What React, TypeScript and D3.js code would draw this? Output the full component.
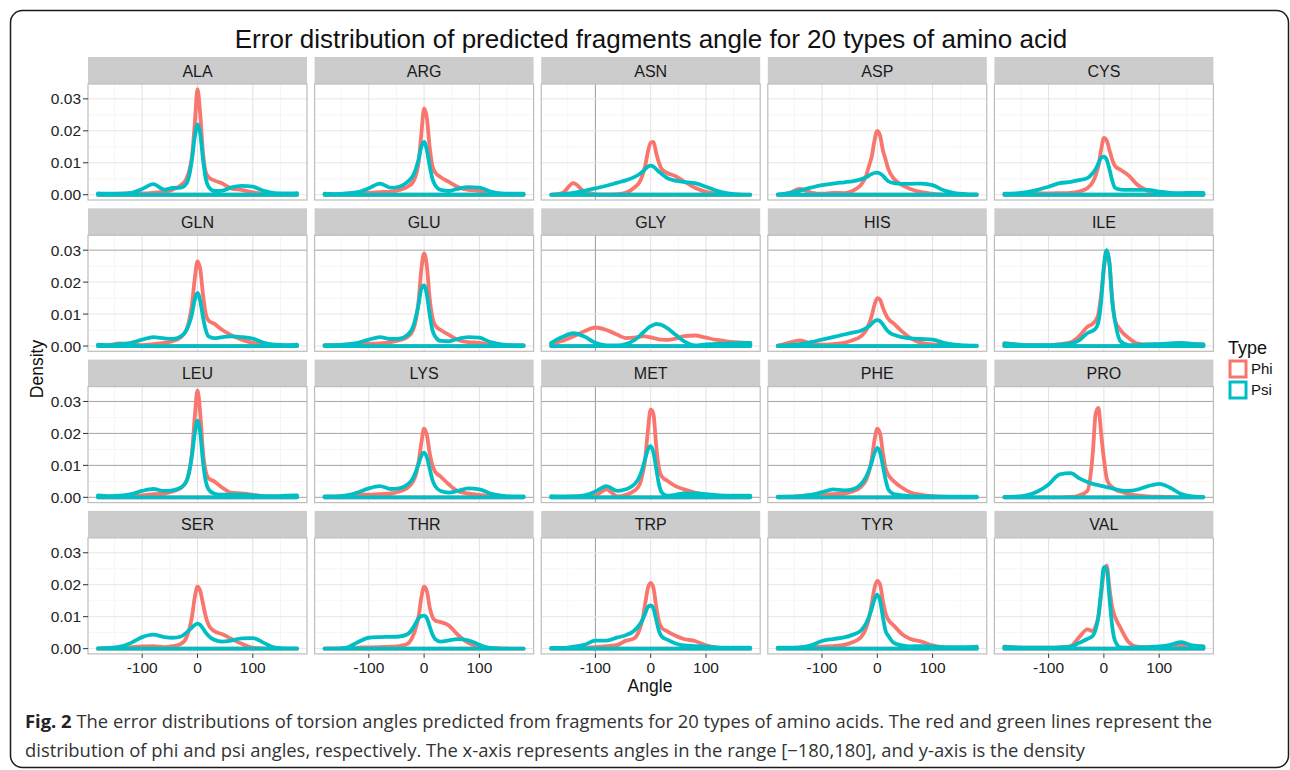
import React from 'react';
import * as d3 from 'd3';

const ANGLES = [-180, -160, -140, -120, -100, -80, -60, -45, -30, -20, -15, -10, -5, 0, 5, 10, 15, 20, 30, 45, 60, 80, 100, 120, 140, 160, 180];

const AMINO_ACIDS = ['ALA', 'ARG', 'ASN', 'ASP', 'CYS', 'GLN', 'GLU', 'GLY', 'HIS', 'ILE', 'LEU', 'LYS', 'MET', 'PHE', 'PRO', 'SER', 'THR', 'TRP', 'TYR', 'VAL'];

// densities, in units of 0.001
const ALA_PHI = [0.2, 0.2, 0.3, 0.5, 0.4, 0.6, 1.0, 1.6, 3.0, 5.0, 7.5, 12, 22, 33, 25, 13, 7, 5.5, 4.5, 3.5, 2.0, 1.5, 0.8, 0.3, 0.2, 0.1, 0.1];
const ALA_PSI = [0.4, 0.3, 0.3, 0.6, 1.8, 3.3, 1.6, 2.1, 2.2, 3.5, 6, 11, 18, 22, 19, 11, 5, 2.5, 1.2, 1.3, 2.2, 2.8, 2.5, 1.2, 0.5, 0.4, 0.5];
const ARG_PHI = [0.2, 0.2, 0.3, 0.5, 0.6, 0.8, 1.0, 1.5, 2.5, 4, 6, 10, 19, 27, 24, 15, 9, 7, 5.5, 4, 2.5, 1.5, 1.2, 0.5, 0.2, 0.1, 0.1];
const ARG_PSI = [0.3, 0.2, 0.4, 0.8, 2.0, 3.5, 2.2, 2.5, 4, 6, 8, 11, 15, 16.5, 14, 9, 5, 3, 1.5, 1.2, 1.8, 2.4, 2.2, 1.0, 0.4, 0.3, 0.3];
const ASN_PHI = [0, 0.5, 3.6, 1.0, 0.2, 0.1, 0.2, 0.6, 2.2, 4, 6, 9, 13.5, 16.3, 16.5, 13, 10, 8, 6.8, 5.8, 4.2, 2.2, 0.9, 0.3, 0.1, 0, 0];
const ASN_PSI = [0, 0.2, 0.6, 1.2, 2.0, 2.8, 3.8, 4.5, 5.5, 6.5, 7.2, 8, 8.8, 9.1, 8.8, 8, 7.2, 6.5, 5.2, 4.4, 4.0, 3.6, 2.5, 1.2, 0.4, 0.1, 0];
const ASP_PHI = [0, 0.5, 1.8, 0.7, 0.3, 0.6, 0.5, 1.2, 3, 6, 9, 12, 17, 20, 18.5, 14, 11, 8, 5, 3, 1.8, 0.8, 0.3, 0.1, 0, 0, 0];
const ASP_PSI = [0.1, 0.5, 1.3, 2.2, 3.0, 3.5, 3.9, 4.2, 4.8, 5.5, 6.0, 6.5, 6.8, 6.9, 6.6, 6.0, 5.0, 4.2, 3.6, 3.4, 3.4, 3.5, 3.0, 1.4, 0.5, 0.2, 0.1];
const CYS_PHI = [0, 0.1, 0.3, 0.5, 0.4, 0.5, 0.6, 1.0, 2.0, 4.0, 6.0, 9, 14, 17.8, 17, 14, 11, 9, 7.8, 6.0, 3.2, 1.2, 0.5, 0.2, 0.1, 0.1, 0.1];
const CYS_PSI = [0.3, 0.4, 0.8, 1.5, 2.5, 3.6, 4.0, 4.6, 5.2, 6.8, 8.0, 9.8, 11.5, 11.9, 11, 8, 4.5, 2.2, 1.6, 1.5, 1.5, 1.5, 1.0, 0.6, 0.5, 0.6, 0.6];
const GLN_PHI = [0.1, 0.3, 0.8, 0.5, 0.3, 0.6, 1.0, 1.5, 2.8, 5, 8, 13, 21, 26.5, 24, 16, 10, 8, 7, 5, 3.5, 2.0, 1.0, 0.4, 0.2, 0.1, 0.1];
const GLN_PSI = [0.4, 0.3, 0.6, 1.0, 2.0, 2.8, 2.4, 2.2, 3.0, 5, 7, 10, 14.5, 16.6, 14, 9, 5, 3.0, 2.5, 2.8, 3.0, 2.8, 2.3, 1.0, 0.4, 0.3, 0.4];
const GLU_PHI = [0.2, 0.3, 0.4, 0.6, 0.7, 0.8, 1.2, 1.8, 2.8, 5, 8, 14, 24, 29, 25, 15, 9, 6.5, 5, 3.5, 2.0, 1.2, 1.0, 0.4, 0.2, 0.1, 0.1];
const GLU_PSI = [0.3, 0.3, 0.5, 1.0, 2.0, 2.8, 2.2, 2.3, 3.5, 6, 9, 13, 18, 19, 16, 10, 5, 3, 1.6, 1.5, 2.2, 2.8, 2.6, 1.2, 0.5, 0.3, 0.3];
const GLY_PHI = [0.8, 1.6, 3.0, 4.6, 5.8, 5.0, 3.5, 2.5, 2.6, 2.9, 3.0, 3.0, 2.9, 2.7, 2.5, 2.3, 2.1, 2.0, 1.9, 2.3, 3.1, 3.3, 2.6, 1.9, 1.4, 1.1, 1.0];
const GLY_PSI = [1.0, 2.8, 4.0, 3.0, 1.0, 0.2, 0.2, 0.6, 1.8, 3.2, 4.0, 4.8, 5.6, 6.2, 6.6, 6.9, 6.8, 6.6, 5.6, 3.5, 1.5, 0.2, 0.5, 0.7, 0.8, 0.9, 1.0];
const HIS_PHI = [0.1, 1.0, 1.8, 0.8, 0.4, 0.6, 1.0, 1.8, 3.0, 5, 7, 9.5, 13, 15, 14.5, 12, 10, 8.5, 7.0, 4.5, 2.5, 1.0, 0.5, 0.2, 0.1, 0, 0];
const HIS_PSI = [0.1, 0.3, 0.6, 1.2, 2.0, 2.8, 3.6, 4.2, 4.8, 5.6, 6.2, 7.0, 7.8, 8.1, 7.8, 6.8, 5.5, 4.5, 3.5, 2.8, 2.4, 2.2, 2.0, 1.0, 0.4, 0.2, 0.1];
const ILE_PHI = [0.8, 0.5, 0.3, 0.3, 0.3, 0.6, 1.2, 3.0, 6.0, 7, 8, 10, 16, 24, 29.5, 26, 15, 8, 5, 2.5, 0.8, 0.4, 0.5, 0.7, 0.8, 0.6, 0.5];
const ILE_PSI = [0.8, 0.5, 0.3, 0.3, 0.3, 0.4, 0.8, 1.8, 4.0, 4.8, 5.5, 7.5, 14, 25, 30, 26, 14, 8, 1.5, 0.3, 0.3, 0.5, 0.6, 0.8, 1.0, 0.7, 0.5];
const LEU_PHI = [0.3, 0.2, 0.3, 0.5, 0.6, 1.0, 1.2, 1.8, 3.0, 5, 8, 14, 25, 33.5, 26, 14, 8, 6, 5, 3.0, 1.5, 1.2, 0.8, 0.3, 0.2, 0.2, 0.2];
const LEU_PSI = [0.6, 0.4, 0.5, 1.0, 2.0, 2.6, 2.0, 2.2, 3.0, 5, 8, 13, 20, 24, 20, 11, 5, 2.5, 1.2, 0.8, 0.8, 0.8, 0.6, 0.4, 0.4, 0.5, 0.6];
const LYS_PHI = [0.2, 0.2, 0.5, 1.0, 0.8, 1.0, 1.2, 1.8, 3.0, 5, 7, 11, 17, 21.5, 19.5, 14, 10, 8, 6.5, 4, 2.0, 1.2, 0.8, 0.3, 0.2, 0.1, 0.1];
const LYS_PSI = [0.3, 0.3, 0.6, 1.5, 2.8, 3.5, 2.6, 2.8, 4.0, 6, 8, 10.5, 13, 14, 12.5, 9, 5.5, 3.5, 2.0, 1.5, 2.0, 2.8, 2.5, 1.2, 0.5, 0.3, 0.3];
const MET_PHI = [0.1, 0.1, 0.3, 0.4, 0.6, 2.5, 0.3, 0.8, 2.0, 4, 7, 12, 21, 27.5, 26, 16, 9, 6.5, 5.2, 3.5, 2.5, 1.5, 0.8, 0.3, 0.2, 0.1, 0.1];
const MET_PSI = [0.4, 0.3, 0.3, 0.6, 1.8, 3.5, 2.0, 2.5, 4.0, 6.5, 9, 12, 15, 16, 14, 9, 4, 1.5, 0.5, 0.8, 1.2, 1.2, 1.0, 0.7, 0.5, 0.5, 0.5];
const PHE_PHI = [0.1, 0.2, 0.4, 0.6, 0.8, 1.0, 1.2, 1.8, 3.2, 5.5, 8, 12, 18, 21.5, 20, 14, 9, 7, 5.0, 3, 1.5, 0.8, 0.4, 0.2, 0.1, 0.1, 0.1];
const PHE_PSI = [0.2, 0.2, 0.4, 0.8, 1.6, 2.5, 2.2, 2.5, 4.0, 6.5, 8.5, 11, 14, 15.5, 14, 10, 5.5, 2.5, 1.0, 0.6, 0.4, 0.3, 0.3, 0.2, 0.2, 0.2, 0.2];
const PRO_PHI = [0, 0, 0, 0, 0, 0, 0.1, 0.6, 2.0, 14, 26, 28, 20, 12, 6, 4, 3.2, 2.5, 1.8, 1.0, 0.6, 0.3, 0.2, 0.1, 0, 0, 0];
const PRO_PSI = [0.1, 0.2, 0.6, 1.8, 4.0, 7.2, 7.6, 6.0, 4.8, 4.2, 4.0, 3.8, 3.6, 3.4, 3.2, 3.0, 2.8, 2.6, 2.2, 2.0, 2.4, 3.5, 4.2, 3.0, 1.0, 0.3, 0.1];
const SER_PHI = [0.1, 0.2, 0.3, 0.5, 0.7, 0.8, 0.5, 0.8, 1.5, 3.5, 6, 10, 16, 19.4, 18, 14, 10, 7.5, 5.5, 4.5, 3.2, 1.5, 0.3, 0.1, 0, 0, 0];
const SER_PSI = [0.1, 0.2, 0.6, 1.8, 3.6, 4.4, 3.6, 3.4, 3.8, 5.0, 5.8, 6.6, 7.4, 7.8, 7.4, 6.3, 5.0, 4.0, 2.8, 2.2, 2.5, 3.2, 3.3, 1.8, 0.3, 0.1, 0.1];
const THR_PHI = [0.1, 0.1, 0.2, 0.3, 0.4, 0.5, 0.6, 0.8, 1.5, 4, 6.5, 10, 16, 19.4, 18, 13, 10, 8.8, 8.3, 7.2, 4.5, 1.8, 0.6, 0.2, 0.1, 0, 0];
const THR_PSI = [0, 0, 0.3, 2.0, 3.4, 3.6, 3.7, 3.8, 4.5, 6.5, 8, 9.5, 10.2, 10.3, 9.5, 7, 4.5, 3.0, 2.2, 2.6, 3.0, 2.6, 1.2, 0.2, 0, 0, 0];
const TRP_PHI = [0.1, 0.1, 0.2, 0.3, 0.5, 0.8, 1.2, 2.5, 3.2, 6, 9, 14, 19, 20.6, 19, 13, 8.5, 6.5, 5.4, 4.0, 3.0, 2.4, 1.0, 0.3, 0.1, 0, 0];
const TRP_PSI = [0.2, 0.2, 0.6, 1.2, 2.5, 2.5, 3.5, 4.2, 5.6, 7.5, 9, 11, 13, 13.5, 12.5, 9, 5.5, 3.8, 2.8, 1.6, 1.0, 0.8, 0.6, 0.4, 0.3, 0.3, 0.3];
const TYR_PHI = [0.2, 0.2, 0.3, 0.5, 0.6, 0.8, 1.2, 2.0, 3.5, 6.5, 9.5, 14, 19, 21.2, 20, 15, 11, 9, 7.2, 4.5, 3.0, 2.2, 1.0, 0.4, 0.2, 0.1, 0.1];
const TYR_PSI = [0.3, 0.3, 0.4, 1.0, 2.4, 3.0, 3.5, 4.3, 5.6, 8.0, 10, 12.5, 15.5, 16.9, 15, 10, 5.5, 4.0, 1.8, 1.0, 0.7, 0.8, 0.6, 0.5, 0.5, 0.5, 0.6];
const VAL_PHI = [0.6, 0.4, 0.3, 0.3, 0.3, 0.4, 0.8, 3.5, 6.0, 5.5, 7, 10, 17, 24, 26, 19, 13, 10, 6.5, 2.0, 0.6, 0.4, 0.5, 0.8, 1.2, 0.8, 0.6];
const VAL_PSI = [0.6, 0.4, 0.3, 0.3, 0.3, 0.4, 0.6, 1.8, 3.0, 4.0, 6, 10, 18, 25.5, 25, 16, 7, 2.5, 0.4, 0.3, 0.4, 0.5, 0.7, 1.2, 2.0, 1.0, 0.7];

const PHI_SERIES = [ALA_PHI, ARG_PHI, ASN_PHI, ASP_PHI, CYS_PHI, GLN_PHI, GLU_PHI, GLY_PHI, HIS_PHI, ILE_PHI, LEU_PHI, LYS_PHI, MET_PHI, PHE_PHI, PRO_PHI, SER_PHI, THR_PHI, TRP_PHI, TYR_PHI, VAL_PHI];
const PSI_SERIES = [ALA_PSI, ARG_PSI, ASN_PSI, ASP_PSI, CYS_PSI, GLN_PSI, GLU_PSI, GLY_PSI, HIS_PSI, ILE_PSI, LEU_PSI, LYS_PSI, MET_PSI, PHE_PSI, PRO_PSI, SER_PSI, THR_PSI, TRP_PSI, TYR_PSI, VAL_PSI];

const TYPES = ['Phi', 'Psi'];
const TYPE_COLORS = ['#F8766D', '#00BFC4'];
const X_TICKS = [-100, 0, 100];
const X_MINOR = [-150, -50, 50, 150];
const Y_TICKS = [0, 0.01, 0.02, 0.03];
const Y_MINOR = [0.005, 0.015, 0.025];

const TITLE = 'Error distribution of predicted fragments angle for 20 types of amino acid';
const CAPTION_1 = ' The error distributions of torsion angles predicted from fragments for 20 types of amino acids. The red and green lines represent the';
const CAPTION_2 = 'distribution of phi and psi angles, respectively. The x-axis represents angles in the range [\u2212180,180], and y-axis is the density';

// layout
const W = 1290;
const H = 770;
const LEFT = 88;
const TOP = 57;
const COL_STEP = 226.6;
const ROW_STEP = 151.3;
const STRIP_H = 27;
const PANEL_W = 219;
const PANEL_H = 116;
const NCOL = 5;
const FONT = '"Liberation Sans", Arial, sans-serif';
const CAPTION_FONT = '"Open Sans", "Noto Sans", sans-serif';

export default function App() {
  const x = d3.scaleLinear().domain([-198, 198]).range([0, PANEL_W]);
  const y = d3.scaleLinear().domain([-0.00165, 0.03465]).range([PANEL_H, 0]);

  const area = d3.area<number>()
    .x((_, i) => x(ANGLES[i]))
    .y0(y(0))
    .y1(d => y(d / 1000))
    .curve(d3.curveMonotoneX);

  const nRow = Math.ceil(AMINO_ACIDS.length / NCOL);

  return (
    <svg width={W} height={H} style={{ position: 'absolute', left: 0, top: 0, background: '#fff' }}>
      <rect x={10.5} y={10.5} width={1278} height={757} rx={12} fill="none" stroke="#1a1a1a" strokeWidth={1.5} />
      <text x={651} y={48} textAnchor="middle" fontFamily={FONT} fontSize={26} fill="#111">{TITLE}</text>

      {AMINO_ACIDS.map((name, k) => {
        const col = k % NCOL;
        const row = Math.floor(k / NCOL);
        const px = LEFT + col * COL_STEP;
        const sy = TOP + row * ROW_STEP;
        const py = sy + STRIP_H;
        // grid lines that look darker in the scanned figure
        const darkV = (v: number) => col === 2 && v === -100;
        const darkH = (v: number) => row === 2 || (row === 1 && v === 0.03);
        return (
          <g key={name}>
            <rect x={px} y={sy} width={PANEL_W} height={STRIP_H} fill="#CCCCCC" />
            <text x={px + PANEL_W / 2} y={sy + 19.5} textAnchor="middle" fontFamily={FONT} fontSize={16} fill="#1a1a1a">{name}</text>
            <g transform={`translate(${px},${py})`}>
              <rect width={PANEL_W} height={PANEL_H} fill="#fff" />
              {X_MINOR.map(v => <line key={'xm' + v} x1={x(v)} x2={x(v)} y1={0} y2={PANEL_H} stroke="#F4F4F4" strokeWidth={0.8} />)}
              {Y_MINOR.map(v => <line key={'ym' + v} x1={0} x2={PANEL_W} y1={y(v)} y2={y(v)} stroke="#F4F4F4" strokeWidth={0.8} />)}
              {X_TICKS.map(v => <line key={'xg' + v} x1={x(v)} x2={x(v)} y1={0} y2={PANEL_H} stroke={darkV(v) ? '#9C9C9C' : '#E2E2E2'} strokeWidth={1} />)}
              {Y_TICKS.map(v => <line key={'yg' + v} x1={0} x2={PANEL_W} y1={y(v)} y2={y(v)} stroke={darkH(v) ? '#A4A4A4' : '#E6E6E6'} strokeWidth={1} />)}
              <path d={area(PHI_SERIES[k]) || ''} fill="none" stroke={TYPE_COLORS[0]} strokeWidth={3.8} strokeLinejoin="round" />
              <path d={area(PSI_SERIES[k]) || ''} fill="none" stroke={TYPE_COLORS[1]} strokeWidth={3.8} strokeLinejoin="round" />
              <rect width={PANEL_W} height={PANEL_H} fill="none" stroke="#BDBDBD" strokeWidth={1.2} />
              {col === 0 && Y_TICKS.map(v => (
                <g key={'yt' + v}>
                  <line x1={-5} x2={0} y1={y(v)} y2={y(v)} stroke="#333" strokeWidth={1} />
                  <text x={-7} y={y(v) + 5.5} textAnchor="end" fontFamily={FONT} fontSize={15.5} fill="#222">{v.toFixed(2)}</text>
                </g>
              ))}
              {row === nRow - 1 && X_TICKS.map(v => (
                <g key={'xt' + v}>
                  <line x1={x(v)} x2={x(v)} y1={PANEL_H} y2={PANEL_H + 4} stroke="#333" strokeWidth={1} />
                  <text x={x(v)} y={PANEL_H + 19.5} textAnchor="middle" fontFamily={FONT} fontSize={15.5} fill="#222">{v}</text>
                </g>
              ))}
            </g>
          </g>
        );
      })}

      <text x={650} y={692} textAnchor="middle" fontFamily={FONT} fontSize={17.5} fill="#111">Angle</text>
      <text transform="translate(43,369) rotate(-90)" textAnchor="middle" fontFamily={FONT} fontSize={17.5} fill="#111">Density</text>

      <text x={1228} y={354} fontFamily={FONT} fontSize={18} fill="#111">Type</text>
      {TYPES.map((t, i) => (
        <g key={t} transform={`translate(1230,${361 + i * 21})`}>
          <rect width={16} height={16} fill="#fff" stroke={TYPE_COLORS[i]} strokeWidth={3} />
          <text x={21} y={13} fontFamily={FONT} fontSize={15} fill="#111">{t}</text>
        </g>
      ))}

      <text x={25} y={728} fontFamily={CAPTION_FONT} fontSize={18.4} fill="#333">
        <tspan fontWeight="bold" fill="#222">Fig. 2</tspan>{CAPTION_1}
      </text>
      <text x={25} y={757} fontFamily={CAPTION_FONT} fontSize={18.4} fill="#333">{CAPTION_2}</text>
    </svg>
  );
}
